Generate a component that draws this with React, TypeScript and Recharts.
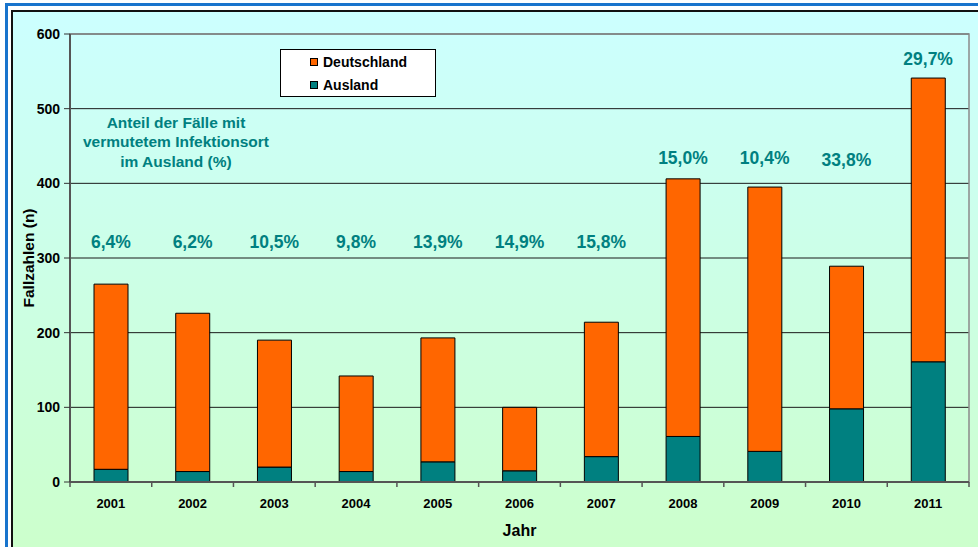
import React from 'react';
import {
  ComposedChart,
  Bar,
  Line,
  XAxis,
  YAxis,
  CartesianGrid,
  Legend,
  LabelList,
  ReferenceArea,
  Label,
} from 'recharts';

// ---- data ----
const years = ['2001', '2002', '2003', '2004', '2005', '2006', '2007', '2008', '2009', '2010', '2011'];
const ausland = [17, 14, 20, 14, 27, 15, 34, 61, 41, 98, 161];
const deutschland = [248, 212, 170, 128, 166, 85, 180, 345, 354, 191, 380];
const shareLabels = ['6,4%', '6,2%', '10,5%', '9,8%', '13,9%', '14,9%', '15,8%', '15,0%', '10,4%', '33,8%', '29,7%'];
// level (in case numbers) at which each share annotation sits
const shareLabelLevel = [321, 321, 321, 321, 321, 321, 321, 434, 434, 431, 567];
const yTicks = [0, 100, 200, 300, 400, 500, 600];

const data = years.map((year, i) => ({
  year,
  Ausland: ausland[i],
  Deutschland: deutschland[i],
  share: shareLabels[i],
  level: shareLabelLevel[i],
}));

// ---- layout / style ----
const W = 978;
const H = 547;
const PLOT_LEFT = 70;
const PLOT_RIGHT = 969;
const PLOT_TOP = 34;
const PLOT_BOTTOM = 482;
const FONT = '"Liberation Sans", Arial, Helvetica, sans-serif';
const ORANGE = '#FF6600';
const TEAL = '#008080';
const HALF_BAND = (PLOT_RIGHT - PLOT_LEFT) / years.length / 2;

function XTick(props: any) {
  const { x, y, payload, index } = props;
  return (
    <g>
      {index === 0 && (
        <line x1={x - HALF_BAND} y1={y} x2={x - HALF_BAND} y2={y + 5} stroke="#555" strokeWidth={1.5} />
      )}
      <line x1={x + HALF_BAND} y1={y} x2={x + HALF_BAND} y2={y + 5} stroke="#555" strokeWidth={1.5} />
      <text x={x} y={y + 25.5} textAnchor="middle" fontSize={13} fontWeight="bold" fill="#000" fontFamily={FONT}>
        {payload.value}
      </text>
    </g>
  );
}

function ShareLabel(props: any) {
  const { x, y, value } = props;
  return (
    <text
      x={x}
      y={y}
      dy={6}
      textAnchor="middle"
      fontSize={17.5}
      fontWeight="bold"
      fill={TEAL}
      fontFamily={FONT}
    >
      {value}
    </text>
  );
}

function LegendBox(props: any) {
  const items = [...(props.payload || [])].filter((p: any) => p.type !== 'none').reverse();
  return (
    <div
      style={{
        width: 154,
        height: 46,
        background: '#fff',
        border: '1px solid #000',
        fontFamily: FONT,
        fontWeight: 'bold',
        fontSize: 14,
        color: '#000',
      }}
    >
      {items.map((it: any) => (
        <div key={it.value} style={{ display: 'flex', alignItems: 'center', height: 23 }}>
          <span
            style={{
              display: 'inline-block',
              width: 6,
              height: 6,
              background: it.color,
              border: '1px solid #000',
              marginLeft: 29,
              marginRight: 5,
            }}
          />
          <span>{it.value}</span>
        </div>
      ))}
    </div>
  );
}

function YLabel(props: any) {
  const vb = props.viewBox || { x: 10, y: PLOT_TOP, width: 60, height: PLOT_BOTTOM - PLOT_TOP };
  const cx = vb.x + 18;
  const cy = vb.y + vb.height / 2;
  return (
    <text
      x={cx}
      y={cy}
      transform={`rotate(-90 ${cx} ${cy})`}
      textAnchor="middle"
      dominantBaseline="central"
      fontSize={15.5}
      fontWeight="bold"
      fill="#000"
      fontFamily={FONT}
    >
      Fallzahlen (n)
    </text>
  );
}

function XLabel(props: any) {
  const vb = props.viewBox || { x: PLOT_LEFT, y: PLOT_BOTTOM, width: PLOT_RIGHT - PLOT_LEFT, height: 65 };
  const cx = vb.x + vb.width / 2;
  return (
    <text x={cx} y={vb.y + 54} textAnchor="middle" fontSize={16} fontWeight="bold" fill="#000" fontFamily={FONT}>
      Jahr
    </text>
  );
}

export default function App() {
  return (
    <div
      style={{
        position: 'absolute',
        left: 0,
        top: 0,
        width: W,
        height: H,
        background: '#fff',
        overflow: 'hidden',
        fontFamily: FONT,
      }}
    >
      <div style={{ position: 'absolute', left: 5, top: 3, width: W - 5, height: 3, background: '#1874CD' }} />
      <div style={{ position: 'absolute', left: 5, top: 3, width: 2.5, height: H, background: '#1874CD' }} />
      <div
        style={{
          position: 'absolute',
          left: 11,
          top: 10,
          right: 0,
          bottom: 0,
          borderTop: '2px solid #111',
          borderLeft: '2px solid #111',
          background: 'linear-gradient(#CCFFFF, #CCFFCC)',
        }}
      />
      <div style={{ position: 'absolute', left: 0, top: 0 }}>
        <ComposedChart
          width={W}
          height={H}
          data={data}
          margin={{ top: PLOT_TOP, right: W - PLOT_RIGHT, left: 10, bottom: 0 }}
          barSize={34}
        >
          <CartesianGrid horizontal vertical={false} stroke="#1a1a1a" strokeWidth={1} />
          <ReferenceArea y1={0} y2={600} fill="none" stroke="#8a8a8a" strokeWidth={1.5} ifOverflow="extendDomain" />
          <XAxis
            dataKey="year"
            height={H - PLOT_BOTTOM}
            axisLine={{ stroke: '#555', strokeWidth: 2 }}
            tickLine={false}
            tickSize={0}
            tickMargin={0}
            tick={<XTick />}
            interval={0}
          >
            <Label content={<XLabel />} />
          </XAxis>
          <YAxis
            width={PLOT_LEFT - 10}
            domain={[0, 600]}
            ticks={yTicks}
            axisLine={{ stroke: '#555', strokeWidth: 2 }}
            tickLine={{ stroke: '#333', strokeWidth: 1 }}
            tickSize={6}
            tickMargin={4}
            tick={{ fontSize: 14, fontWeight: 'bold', fill: '#000', fontFamily: FONT }}
          >
            <Label content={<YLabel />} />
          </YAxis>
          <Legend
            layout="horizontal"
            verticalAlign="middle"
            align="center"
            content={<LegendBox />}
            wrapperStyle={{ position: 'absolute', left: 280, top: 49, width: 156, height: 48 }}
          />
          <Bar dataKey="Ausland" stackId="a" fill={TEAL} stroke="#000" strokeWidth={1} isAnimationActive={false} />
          <Bar dataKey="Deutschland" stackId="a" fill={ORANGE} stroke="#000" strokeWidth={1} isAnimationActive={false} />
          <Line
            dataKey="level"
            stroke="none"
            dot={false}
            activeDot={false}
            legendType="none"
            isAnimationActive={false}
          >
            <LabelList dataKey="share" content={<ShareLabel />} />
          </Line>
        </ComposedChart>
      </div>
      <div
        style={{
          position: 'absolute',
          left: 66,
          top: 113,
          width: 220,
          textAlign: 'center',
          color: TEAL,
          fontWeight: 'bold',
          fontSize: 15.5,
          lineHeight: '19.3px',
          fontFamily: FONT,
        }}
      >
        Anteil der Fälle mit
        <br />
        vermutetem Infektionsort
        <br />
        im Ausland (%)
      </div>
    </div>
  );
}
